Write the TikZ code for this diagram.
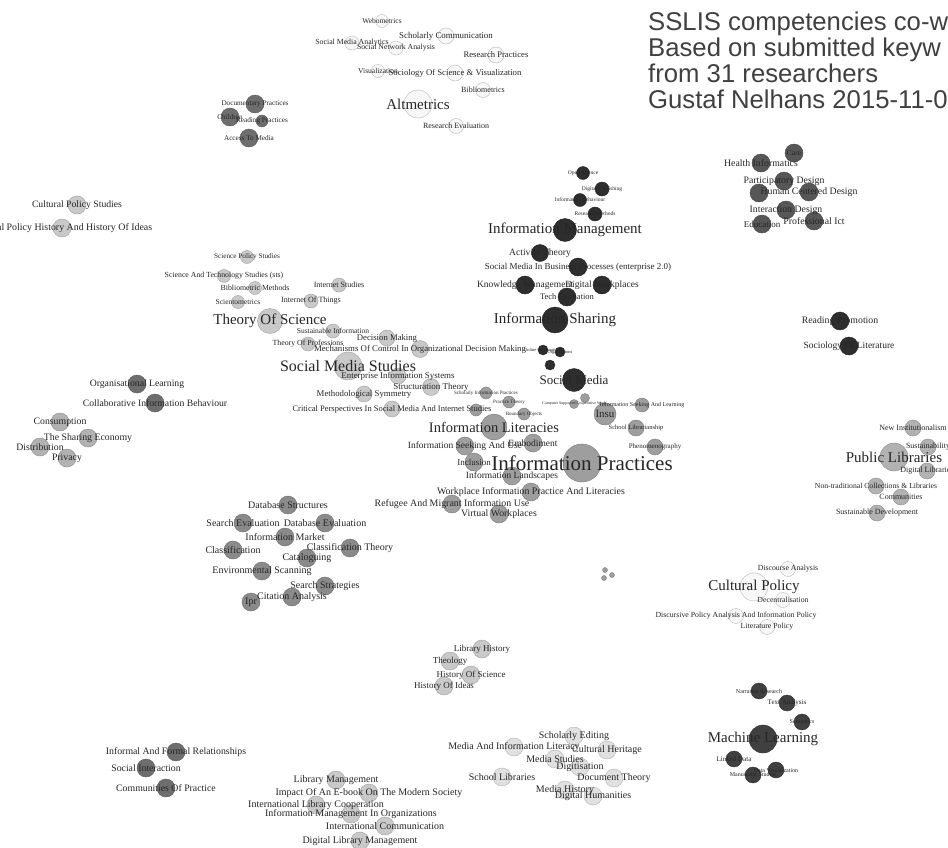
\documentclass[tikz,border=0pt]{standalone}
\usepackage{fontspec}
\setmainfont{Liberation Serif}
\newfontfamily\titlefont{Liberation Sans}

\pgfdeclarelayer{edges}
\pgfdeclarelayer{labels}
\pgfsetlayers{edges,main,labels}

\tikzset{
  kwnode/.style={circle, inner sep=0pt, line width=0.4pt},
  kwlabel/.style={inner sep=0pt, text=black!85},
  link/.style={draw=black!18, line width=0.4pt, bend left=12},
  titletext/.style={inner sep=0pt, anchor=base west, text=black!75,
    font=\titlefont\fontsize{25.7}{25.7}\selectfont},
  % niveaux de gris des groupes
  g97/.style={fill=black!3, draw=black!28},
  g88/.style={fill=black!12, draw=black!30},
  g80/.style={fill=black!21, draw=black!38},
  g70/.style={fill=black!30, draw=black!45},
  g62/.style={fill=black!38, draw=black!52},
  g55/.style={fill=black!46, draw=black!58},
  g45/.style={fill=black!57, draw=black!66},
  g35/.style={fill=black!66, draw=black!74},
  g25/.style={fill=black!75, draw=black!82},
  g18/.style={fill=black!82, draw=black!88},
}

% mot-cle : [style]{nom}{x,y}{rayon}{taille}{texte}
\newcommand{\kw}[6][]{%
  \node[kwnode, #1, minimum size={2*#4pt}] (#2) at (#3) {};
  \begin{pgfonlayer}{labels}
    \node[kwlabel, font=\fontsize{#5}{#5}\selectfont] at (#2) {#6};
  \end{pgfonlayer}}

\begin{document}
\begin{tikzpicture}[x=1pt, y=-1pt]

\fill[white] (0,0) rectangle (948,847);
\useasboundingbox (0,0) rectangle (948,847);

% Titre
\node[titletext] (t1) at (648,30) {SSLIS competencies co-w};
\node[titletext] (t2) at (648,56) {Based on submitted keyw};
\node[titletext] (t3) at (648,82) {from 31 researchers};
\node[titletext] (t4) at (648,108) {Gustaf Nelhans 2015-11-0};

% Altmetrics
\kw[g97]{web}{382,21}{6.5}{7.5}{Webometrics}
\kw[g97]{sma}{352,43}{7}{7.8}{Social Media Analytics}
\kw[g97]{scom}{446,36}{8}{8.9}{Scholarly Communication}
\kw[g97]{sna}{396,48}{7}{7.8}{Social Network Analysis}
\kw[g97]{rpr}{496,55}{8}{8.6}{Research Practices}
\kw[g97]{vis}{378,71}{6.5}{7.5}{Visualization}
\kw[g97]{sos}{455,73}{8}{8.7}{Sociology Of Science \& Visualization}
\kw[g97]{bib}{483,90}{7.5}{8}{Bibliometrics}
\kw[g97]{alt}{418,104}{14}{15}{Altmetrics}
\kw[g97]{rev}{456,126}{7.5}{8}{Research Evaluation}

% Documentary practices
\kw[g45]{doc}{255,104}{9}{7.2}{Documentary Practices}
\kw[g45]{chi}{230,117}{9}{7.2}{Children}
\kw[g45]{rea}{262,121}{6}{7.2}{Reading Practices}
\kw[g45]{acc}{249,138}{9}{7.2}{Access To Media}

% Cultural policy studies
\kw[g80]{cps}{77,205}{9}{9.7}{Cultural Policy Studies}
\kw[g80]{phi}{62,228}{9}{9.9}{Cultural Policy History And History Of Ideas}

% Theory of science
\kw[g80]{spol}{247,257}{6.5}{7.2}{Science Policy Studies}
\kw[g80]{sts}{224,276}{6.5}{7.8}{Science And Technology Studies (sts)}
\kw[g80]{bmet}{255,288}{6.5}{7.8}{Bibliometric Methods}
\kw[g80]{scim}{238,302}{6.5}{7.5}{Scientometrics}
\kw[g80]{inst}{339,285}{7}{8}{Internet Studies}
\kw[g80]{iot}{311,301}{7}{8}{Internet Of Things}
\kw[g80]{tos}{270,321}{12.5}{15}{Theory Of Science}
\kw[g80]{sinf}{333,331}{7}{7.5}{Sustainable Information}
\kw[g80]{dm}{387,338}{8}{8.7}{Decision Making}
\kw[g80]{tprof}{308,344}{7}{7.8}{Theory Of Professions}
\kw[g80]{mech}{420,349}{8.5}{8.8}{Mechanisms Of Control In Organizational Decision Making}
\kw[g80]{sms}{348,366}{14}{16}{Social Media Studies}
\kw[g80]{eis}{398,376}{8}{8.9}{Enterprise Information Systems}
\kw[g80]{struc}{431,387}{8.5}{9}{Structuration Theory}
\kw[g80]{meth}{364,394}{8}{8.8}{Methodological Symmetry}
\kw[g80]{crit}{392,409}{8}{8.5}{Critical Perspectives In Social Media And Internet Studies}

% Information management
\kw[g18]{open}{583,173}{6.5}{5.5}{Open Science}
\kw[g18]{dpub}{602,189}{7}{5.5}{Digital Publishing}
\kw[g18]{ibeh}{580,200}{6.5}{5.5}{Information Behaviour}
\kw[g18]{rmet}{595,214}{7}{5.5}{Research Methods}
\kw[g18]{im}{565,230}{11.5}{15}{Information Management}
\kw[g18]{act}{540,253}{8.5}{9.6}{Activity Theory}
\kw[g18]{smbp}{578,267}{9}{9}{Social Media In Business Processes (enterprise 2.0)}
\kw[g18]{km}{525,285}{9}{9.5}{Knowledge Management}
\kw[g18]{dw}{602,285}{9}{9.5}{Digital Workplaces}
\kw[g18]{tech}{567,297}{9}{8.5}{Tech Formation}
\kw[g18]{is}{555,320}{13}{15}{Information Sharing}
\kw[g18]{on1}{543,350}{5}{4.5}{Online Communities}
\kw[g18]{on2}{560,352}{5}{4.5}{Organisations}
\kw[g18]{on3}{550,365}{5}{4.5}{}
\kw[g18]{sm}{574,380}{11.5}{13}{Social Media}

% Information practices
\kw[g62]{ip}{582,463}{19}{21}{Information Practices}
\kw[g62]{il}{494,427}{13}{14.5}{Information Literacies}
\kw[g62]{insu}{605,414}{11}{11}{Insu}
\kw[g62]{isu}{465,446}{9}{9.5}{Information Seeking And Use}
\kw[g62]{emb}{533,443}{9}{9.5}{Embodiment}
\kw[g62]{inc}{474,462}{9}{9}{Inclusion}
\kw[g62]{ilan}{512,476}{9}{9.5}{Information Landscapes}
\kw[g62]{wip}{531,492}{9}{9.9}{Workplace Information Practice And Literacies}
\kw[g62]{ref}{452,504}{9}{9.9}{Refugee And Migrant Information Use}
\kw[g62]{vw}{499,514}{9}{9.8}{Virtual Workplaces}
\kw[g62]{sip}{486,393}{6}{5}{Scholarly Information Practices}
\kw[g62]{pth}{509,402}{6}{5}{Practice Theory}
\kw[g62]{bob}{524,414}{6}{5}{Boundary Objects}
\kw[g62]{xcs}{476,410}{6}{5}{}
\kw[g62]{s1}{585,398}{4.5}{4}{}
\kw[g62]{s2}{574,404}{4.5}{4}{Computer Supported Cooperative Work}
\kw[g62]{isl}{642,405}{7}{6}{Information Seeking And Learning}
\kw[g62]{slib}{636,428}{8}{6.5}{School Librarianship}
\kw[g62]{phen}{655,447}{8}{7}{Phenomenography}
\kw[g62]{b1}{605,570}{2.5}{3}{}
\kw[g62]{b2}{612,575}{2.5}{3}{}
\kw[g62]{b3}{604,578}{2.5}{3}{}

% Health informatics
\kw[g35]{care}{794,153}{9}{7.5}{Care}
\kw[g35]{hinf}{761,163}{9}{9.8}{Health Informatics}
\kw[g35]{pd}{784,181}{9}{9.8}{Participatory Design}
\kw[g35]{hel}{759,193}{9}{9.8}{}
\kw[g35]{ucd}{809,192}{9}{9.8}{Human Centered Design}
\kw[g35]{ixd}{786,210}{9}{9.8}{Interaction Design}
\kw[g35]{edu}{762,224}{9}{9}{Education}
\kw[g35]{pict}{814,221}{9}{9.8}{Professional Ict}

% Reading promotion
\kw[g18]{rpro}{840,321}{9}{9.8}{Reading Promotion}
\kw[g18]{sol}{849,346}{9}{9.5}{Sociology Of Literature}

% Public libraries
\kw[g70]{ni}{913,428}{8}{8}{New Institutionalism}
\kw[g70]{sus}{928,447}{8}{8}{Sustainability}
\kw[g70]{pl}{894,457}{14}{15}{Public Libraries}
\kw[g70]{dl}{927,471}{8}{8}{Digital Libraries}
\kw[g70]{ntc}{876,486}{8}{7.7}{Non-traditional Collections \& Libraries}
\kw[g70]{com}{901,497}{8}{8}{Communities}
\kw[g70]{sd}{877,513}{8}{8}{Sustainable Development}

% Organisational learning
\kw[g45]{orgl}{137,384}{9}{9.7}{Organisational Learning}
\kw[g45]{cib}{155,403}{9}{9.7}{Collaborative Information Behaviour}

% Sharing economy
\kw[g70]{cons}{60,422}{9}{9.8}{Consumption}
\kw[g70]{tse}{88,438}{9}{9.8}{The Sharing Economy}
\kw[g70]{dist}{40,447}{9}{9.8}{Distribution}
\kw[g70]{priv}{67,458}{9}{9.8}{Privacy}

% Databases
\kw[g55]{dbs}{288,505}{9}{10}{Database Structures}
\kw[g55]{sev}{243,523}{9}{10}{Search Evaluation}
\kw[g55]{dbe}{325,523}{9}{10}{Database Evaluation}
\kw[g55]{imk}{285,537}{9}{10}{Information Market}
\kw[g55]{cls}{233,550}{9}{10}{Classification}
\kw[g55]{clt}{350,548}{9}{10}{Classification Theory}
\kw[g55]{cat}{307,558}{9}{10}{Cataloguing}
\kw[g55]{env}{262,571}{9}{10}{Environmental Scanning}
\kw[g55]{sst}{325,586}{9}{10}{Search Strategies}
\kw[g55]{cit}{292,597}{9}{10}{Citation Analysis}
\kw[g55]{ipr}{251,602}{9}{10}{Ipr}

% Cultural policy
\kw[g97]{da}{788,569}{7.5}{7.8}{Discourse Analysis}
\kw[g97]{cp}{754,587}{14}{15}{Cultural Policy}
\kw[g97]{dec}{783,600}{7.5}{7.8}{Decentralisation}
\kw[g97]{dpa}{736,616}{7.5}{7.8}{Discursive Policy Analysis And Information Policy}
\kw[g97]{lp}{767,627}{7.5}{7.8}{Literature Policy}

% History
\kw[g80]{lh}{482,649}{9}{9}{Library History}
\kw[g80]{theo}{450,661}{9}{9}{Theology}
\kw[g80]{hos}{471,675}{9}{9}{History Of Science}
\kw[g80]{hoi}{444,686}{9}{9}{History Of Ideas}

% Social interaction
\kw[g45]{ifr}{176,752}{9}{9.8}{Informal And Formal Relationships}
\kw[g45]{si}{146,768}{9}{9.8}{Social Interaction}
\kw[g45]{cop}{166,788}{9}{9.8}{Communities Of Practice}

% Library management
\kw[g80]{lm}{336,780}{9}{10}{Library Management}
\kw[g80]{imp}{369,793}{9}{10}{Impact Of An E-book On The Modern Society}
\kw[g80]{ilc}{316,805}{9}{10}{International Library Cooperation}
\kw[g80]{imo}{351,814}{9}{10}{Information Management In Organizations}
\kw[g80]{ic}{385,826}{9}{10}{International Communication}
\kw[g80]{dlm}{360,841}{9}{10}{Digital Library Management}

% Digital humanities
\kw[g88]{se}{574,736}{9}{10}{Scholarly Editing}
\kw[g88]{mil}{514,747}{9}{10}{Media And Information Literacy}
\kw[g88]{ch}{607,750}{9}{10}{Cultural Heritage}
\kw[g88]{ms}{555,759}{9}{10}{Media Studies}
\kw[g88]{dig}{580,767}{9}{10}{Digitisation}
\kw[g88]{sl}{502,777}{9}{10}{School Libraries}
\kw[g88]{dt}{614,778}{9}{10}{Document Theory}
\kw[g88]{mh}{565,790}{9}{10}{Media History}
\kw[g88]{dh}{593,796}{9}{10}{Digital Humanities}

% Machine learning
\kw[g25]{nr}{759,691}{8}{6}{Narrative Research}
\kw[g25]{ta}{787,703}{8}{7}{Text Analysis}
\kw[g25]{sem}{802,722}{8}{6}{Semantics}
\kw[g25]{ml}{763,739}{14}{15}{Machine Learning}
\kw[g25]{ld}{734,759}{8}{7}{Linked Data}
\kw[g25]{mul}{753,775}{8}{6}{Manuscript Studies}
\kw[g25]{dvis}{776,770}{8}{6}{Data Visualization}

% Liens
\begin{pgfonlayer}{edges}
\foreach \a/\b in {alt/web, alt/sma, alt/scom, alt/sna, alt/rpr, alt/vis, alt/sos,
  alt/bib, alt/rev, sma/sna, scom/rpr, vis/sos, sos/bib, web/sna, scom/sos, bib/rev,
  doc/chi, doc/rea, doc/acc, chi/rea, chi/acc, rea/acc, cps/phi,
  tos/spol, tos/sts, tos/bmet, tos/scim, tos/inst, tos/iot, tos/sinf, tos/tprof,
  tos/sms, spol/sts, sts/bmet, bmet/scim, inst/iot, iot/sms, sinf/sms, dm/sms,
  mech/sms, tprof/sms, eis/sms, struc/sms, meth/sms, crit/sms, dm/mech, eis/struc,
  inst/sms, sms/il, struc/il, crit/il,
  im/open, im/dpub, im/ibeh, im/rmet, open/dpub, open/ibeh, ibeh/rmet, dpub/rmet,
  im/act, im/smbp, im/km, im/dw, im/tech, im/is, act/km, smbp/dw, km/tech,
  tech/is, dw/is, km/is, act/is, smbp/is, is/on1, is/on2, on1/on3, on2/sm, on3/sm,
  is/sm, dw/sm, sm/insu, sm/ip, sm/s1, sm/s2, im/ip,
  ip/il, ip/insu, ip/isu, ip/emb, ip/inc, ip/ilan, ip/wip, ip/ref, ip/vw,
  il/isu, il/emb, il/inc, il/ilan, isu/inc, inc/ref, ref/vw, wip/vw, ilan/wip,
  il/sip, il/pth, il/bob, il/xcs, insu/isl, insu/slib, insu/phen, ip/phen, ip/slib,
  ip/isl, emb/ilan, isu/ref,
  care/hinf, care/pd, hinf/pd, pd/hel, pd/ucd, hel/ucd, pd/ixd, hel/ixd, ucd/ixd,
  ixd/edu, ixd/pict, edu/pict, hinf/hel, ucd/pict, care/ucd, hel/edu,
  rpro/sol,
  pl/ni, pl/sus, pl/dl, pl/ntc, pl/com, pl/sd, ni/sus, sus/dl, ntc/com, com/sd, ntc/sd,
  orgl/cib, cons/tse, cons/dist, cons/priv, tse/dist, tse/priv, dist/priv,
  dbs/sev, dbs/dbe, dbs/imk, sev/imk, sev/cls, sev/env, dbe/imk, dbe/clt, dbe/cat,
  imk/cat, imk/env, cls/env, cls/ipr, cls/cit, clt/cat, clt/sst, cat/env, cat/sst,
  env/cit, env/ipr, sst/cit, cit/ipr, sev/cit, dbs/cls, dbe/sst, imk/cit, sev/dbe,
  ipr/sst, dbs/clt,
  cp/da, cp/dec, cp/dpa, cp/lp, dpa/lp, da/dec,
  lh/theo, lh/hos, theo/hos, hos/hoi, theo/hoi,
  ifr/si, si/cop, ifr/cop,
  lm/imp, lm/ilc, imp/ilc, ilc/imo, imp/imo, imo/ic, imo/dlm, ic/dlm,
  se/mil, se/ch, se/ms, mil/ms, ms/dig, ch/dig, mil/sl, dig/dt, ms/mh, mh/dh,
  dt/dh, ch/dt, sl/mh,
  ml/nr, ml/ta, ml/sem, ml/ld, ml/mul, ml/dvis, nr/ta, ta/sem, ld/mul, mul/dvis}
  \draw[link] (\a) to (\b);
% longs arcs vers le bas
\draw[link, bend left=25] (ip) to (b2);
\draw[link, bend left=30] (ip) to (b1);
\draw[link, bend left=18] (ip) to (b3);
\end{pgfonlayer}

\end{tikzpicture}
\end{document}
